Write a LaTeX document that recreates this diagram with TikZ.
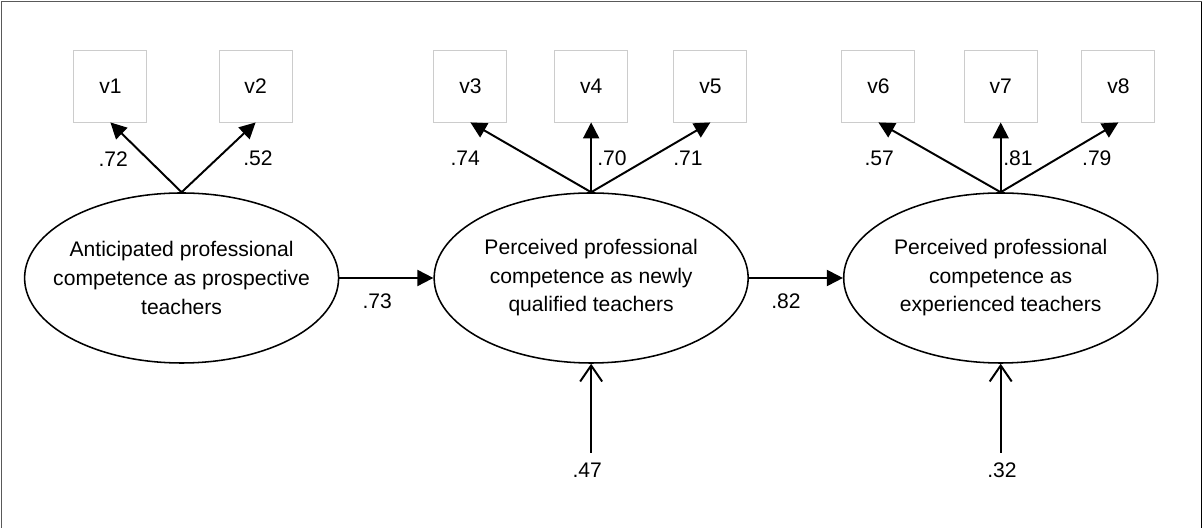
\documentclass[tikz,border=0pt]{standalone}
\usepackage{fontspec}
\setmainfont{Liberation Sans}
\usetikzlibrary{positioning, arrows.meta, shapes.geometric}

\tikzset{
  obsbox/.style={draw=black!20, line width=0.6pt, minimum width=1.825cm, minimum height=1.8cm, inner sep=0pt},
  latent/.style={ellipse, draw, line width=1.1pt, minimum width=7.85cm, minimum height=4.25cm, inner sep=0pt,
    label={[align=center]center:#1}},
  load/.style={line width=1.4pt, -{Triangle[length=4mm,width=4mm]}},
  errpath/.style={line width=1.4pt, -{Straight Barb[length=4mm,width=5.5mm]}},
  coef/.style={inner sep=1pt},
}

\begin{document}
\begin{tikzpicture}[font=\fontsize{15}{20.3}\selectfont]
    \useasboundingbox (0,0) rectangle (30.075,13.2);
    % frame
    \draw[black!65, line width=0.9pt] (0.04,0) -- (0.04,13.16) -- (30.04,13.16);
    \draw[line width=0.9pt] (30.04,13.16) -- (30.04,0);

    % latent variables
    \node[latent={Anticipated professional\\competence as prospective\\teachers}] (pro) at (4.54,6.25) {};
    \node[latent={Perceived professional\\competence as newly\\qualified teachers}, right=2.35cm of pro] (nqt) {};
    \node[latent={Perceived professional\\competence as\\experienced teachers}, right=2.35cm of nqt] (exp) {};

    % indicators
    \node[obsbox] (v1) at (2.76,11.05) {v1};
    \node[obsbox] (v2) at (6.39,11.05) {v2};
    \node[obsbox] (v3) at (11.76,11.05) {v3};
    \node[obsbox] (v4) at (nqt.center |- 0,11.05) {v4};
    \node[obsbox] (v5) at (17.76,11.05) {v5};
    \node[obsbox] (v6) at (21.96,11.05) {v6};
    \node[obsbox] (v7) at (exp.center |- 0,11.05) {v7};
    \node[obsbox] (v8) at (27.96,11.05) {v8};

    % loadings
    \draw[load] (pro.north) -- (v1.south);
    \draw[load] (pro.north) -- (v2.south);
    \draw[load] (nqt.north) -- (v3.south);
    \draw[load] (nqt.north) -- (v4.south);
    \draw[load] (nqt.north) -- (v5.south);
    \draw[load] (exp.north) -- (v6.south);
    \draw[load] (exp.north) -- (v7.south);
    \draw[load] (exp.north) -- (v8.south);
    \node[coef] (l1) at (2.83,9.23) {.72};
    \node[coef] (l2) at (6.45,9.25) {.52};
    \node[coef] (l3) at (11.63,9.25) {.74};
    \node[coef] (l4) at (15.3,9.25) {.70};
    \node[coef] (l5) at (17.2,9.25) {.71};
    \node[coef] (l6) at (21.98,9.25) {.57};
    \node[coef] (l7) at (25.45,9.25) {.81};
    \node[coef] (l8) at (27.42,9.25) {.79};

    % paths
    \draw[load] (pro.east) -- (nqt.west);
    \draw[load] (nqt.east) -- (exp.west);
    \node[coef] (b1) at (9.43,5.68) {.73};
    \node[coef] (b2) at (19.65,5.68) {.82};

    % residuals
    \coordinate (e2) at (nqt.south |- 0,1.875);
    \coordinate (e3) at (exp.south |- 0,1.875);
    \draw[errpath] (e2) -- (nqt.south);
    \draw[errpath] (e3) -- (exp.south);
    \node[coef] (r2) at (14.68,1.45) {.47};
    \node[coef] (r3) at (25.05,1.45) {.32};
\end{tikzpicture}
\end{document}
